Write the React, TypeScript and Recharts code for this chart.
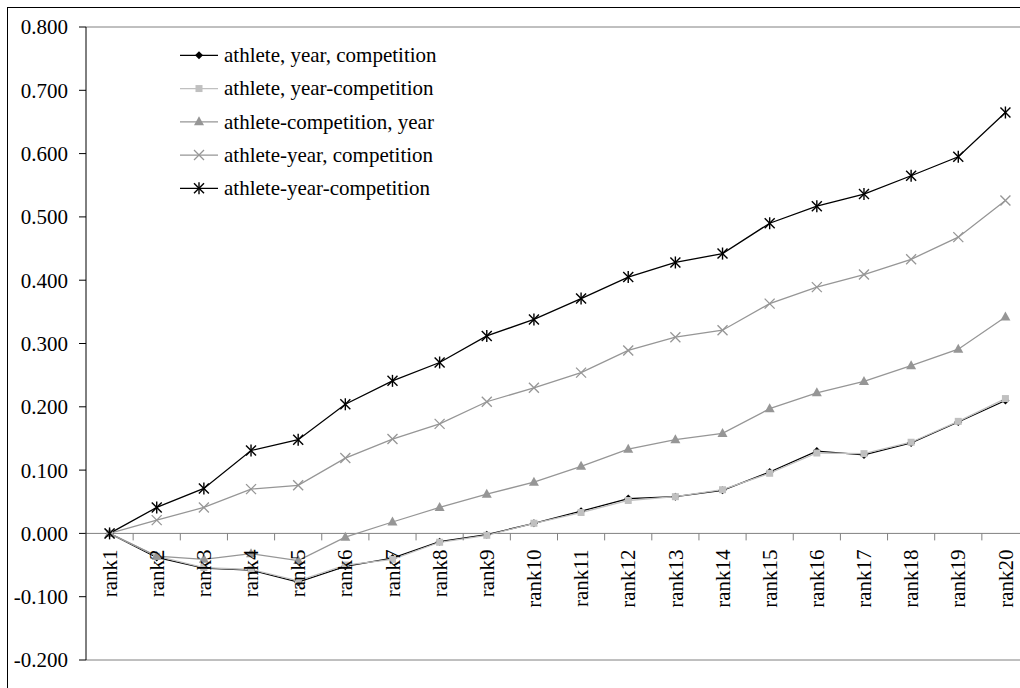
import { LineChart, Line, XAxis, YAxis, ReferenceLine } from 'recharts'

const ranks = ['rank1', 'rank2', 'rank3', 'rank4', 'rank5', 'rank6', 'rank7', 'rank8', 'rank9', 'rank10',
  'rank11', 'rank12', 'rank13', 'rank14', 'rank15', 'rank16', 'rank17', 'rank18', 'rank19', 'rank20']

const ayc = [0, -0.038, -0.055, -0.058, -0.077, -0.052, -0.039, -0.013, -0.002, 0.016, 0.035, 0.055, 0.058, 0.068, 0.097, 0.130, 0.124, 0.143, 0.176, 0.210]
const aYc = [0, -0.036, -0.054, -0.057, -0.075, -0.050, -0.041, -0.014, -0.003, 0.016, 0.033, 0.052, 0.058, 0.069, 0.095, 0.127, 0.126, 0.144, 0.177, 0.213]
const acY = [0, -0.036, -0.041, -0.032, -0.043, -0.006, 0.018, 0.041, 0.062, 0.081, 0.106, 0.133, 0.148, 0.158, 0.197, 0.222, 0.240, 0.265, 0.291, 0.342]
const ayC = [0, 0.021, 0.041, 0.070, 0.076, 0.119, 0.149, 0.173, 0.208, 0.230, 0.254, 0.289, 0.310, 0.321, 0.363, 0.389, 0.409, 0.433, 0.468, 0.526]
const ayc3 = [0, 0.041, 0.071, 0.131, 0.148, 0.204, 0.241, 0.270, 0.312, 0.338, 0.371, 0.405, 0.428, 0.442, 0.490, 0.517, 0.536, 0.565, 0.595, 0.665]

const yTicks = [-0.2, -0.1, 0, 0.1, 0.2, 0.3, 0.4, 0.5, 0.6, 0.7, 0.8]

const SERIES = [
  { key: 's1', name: 'athlete, year, competition', values: ayc, color: '#000000', mark: 'diamond' },
  { key: 's2', name: 'athlete, year-competition', values: aYc, color: '#c0c0c0', mark: 'square' },
  { key: 's3', name: 'athlete-competition, year', values: acY, color: '#969696', mark: 'triangle' },
  { key: 's4', name: 'athlete-year, competition', values: ayC, color: '#969696', mark: 'x' },
  { key: 's5', name: 'athlete-year-competition', values: ayc3, color: '#000000', mark: 'star' },
]

const data = ranks.map((r, i) => {
  const row: any = { rank: r }
  SERIES.forEach(s => { row[s.key] = s.values[i] })
  return row
})

const FONT = '"Liberation Serif", "Times New Roman", serif'
const W = 1040, H = 688
const M = { top: 27, right: 11, bottom: 0, left: 0 }
const YW = 86, XH = 28
const PLOT_W = W - M.left - M.right - YW
const PLOT_H = H - M.top - M.bottom - XH
const Y_MIN = -0.2, Y_MAX = 0.8
const ZERO_Y = M.top + PLOT_H * Y_MAX / (Y_MAX - Y_MIN)
const BAND = PLOT_W / ranks.length

const Mark = ({ kind, cx, cy, color }: any) => {
  if (cx == null || cy == null) return null
  switch (kind) {
    case 'diamond':
      return <polygon points={`${cx},${cy - 4} ${cx + 4},${cy} ${cx},${cy + 4} ${cx - 4},${cy}`} fill={color} />
    case 'square':
      return <rect x={cx - 3.5} y={cy - 3.5} width={7} height={7} fill={color} />
    case 'triangle':
      return <polygon points={`${cx},${cy - 5.5} ${cx + 5},${cy + 3.5} ${cx - 5},${cy + 3.5}`} fill={color} />
    case 'x':
      return <g stroke={color} strokeWidth={1.3}>
        <line x1={cx - 5} y1={cy - 5} x2={cx + 5} y2={cy + 5} />
        <line x1={cx - 5} y1={cy + 5} x2={cx + 5} y2={cy - 5} />
      </g>
    default:
      return <g stroke={color} strokeWidth={1.4}>
        <line x1={cx - 5} y1={cy - 5} x2={cx + 5} y2={cy + 5} />
        <line x1={cx - 5} y1={cy + 5} x2={cx + 5} y2={cy - 5} />
        <line x1={cx} y1={cy - 6} x2={cx} y2={cy + 6} />
      </g>
  }
}

// category axis drawn at y = 0, ticks sit on the band edges
const RankTick = ({ x, payload }: any) => {
  const edge = x - BAND / 2
  return (
    <g>
      <line x1={edge} y1={ZERO_Y} x2={edge} y2={ZERO_Y + 7} stroke="#808080" />
      <text x={x} y={ZERO_Y + 16} transform={`rotate(-90 ${x} ${ZERO_Y + 16})`} textAnchor="end" dy="0.34em"
        fill="#000" fontSize={21} fontFamily={FONT}>{payload.value}</text>
    </g>
  )
}

const LegendBox = () => (
  <svg width={300} height={170} style={{ position: 'absolute', left: 170, top: 38 }}>
    {SERIES.map((s, i) => {
      const y = 17.3 + i * 33.25
      return (
        <g key={s.key}>
          <line x1={10} y1={y} x2={48} y2={y} stroke={s.color} strokeWidth={1.3} />
          <Mark kind={s.mark} cx={29} cy={y} color={s.color} />
          <text x={54} y={y} dy="0.32em" fontSize={21} fontFamily={FONT} fill="#000">{s.name}</text>
        </g>
      )
    })}
  </svg>
)

export default function App() {
  return (
    <div style={{ position: 'fixed', left: 0, top: 0, width: 1020, height: 688, overflow: 'hidden', background: '#fff' }}>
      <div style={{ position: 'absolute', left: 7, top: 7, width: 1100, height: 800, border: '1px solid #000' }} />
      <div style={{ position: 'absolute', left: 0, top: 0 }}>
        <LineChart width={W} height={H} data={data} margin={M}>
          <XAxis dataKey="rank" height={XH} axisLine={false} tickLine={false} interval={0}
            padding={{ left: BAND / 2, right: BAND / 2 }} tick={<RankTick />} />
          <YAxis width={YW} domain={[Y_MIN, Y_MAX]} ticks={yTicks} interval={0} allowDataOverflow
            tickFormatter={(v: number) => v.toFixed(3)} tickSize={7} tickMargin={11}
            axisLine={{ stroke: '#000' }} tickLine={{ stroke: '#000' }}
            tick={{ fill: '#000', fontSize: 21, fontFamily: FONT }} />
          <ReferenceLine y={Y_MAX} stroke="#808080" />
          <ReferenceLine y={Y_MIN} stroke="#808080" />
          <ReferenceLine y={0} stroke="#808080" />
          {SERIES.map(s => (
            <Line key={s.key} dataKey={s.key} name={s.name} stroke={s.color} strokeWidth={1.3}
              isAnimationActive={false}
              dot={(p: any) => <Mark key={`${s.key}-${p.index}`} kind={s.mark} cx={p.cx} cy={p.cy} color={s.color} />}
              activeDot={false} />
          ))}
        </LineChart>
      </div>
      <LegendBox />
    </div>
  )
}
